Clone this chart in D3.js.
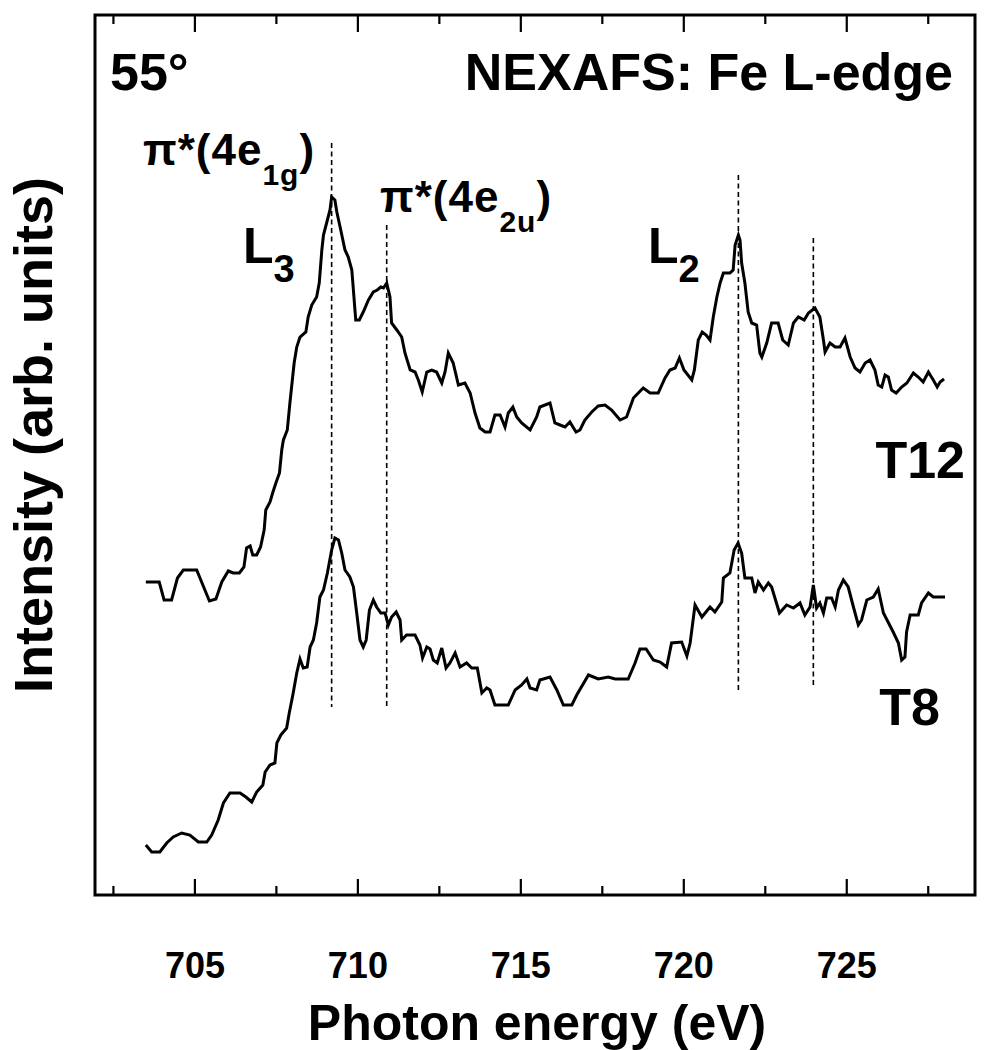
<!DOCTYPE html>
<html>
<head>
<meta charset="utf-8">
<script src="https://cdn.jsdelivr.net/npm/d3@7"></script>
<style>
  body { margin:0; background:#fff; }
  text { font-family: "Liberation Sans", Arial, sans-serif; font-weight: bold; fill:#000; }
</style>
</head>
<body>
<div id="chart"></div>
<script>
// photon energy (eV), intensity (arb. units, T12 offset already in)
var t12 = [
  [703.51,313],[703.92,313],[704.07,295],[704.30,295],[704.48,317],[704.66,325],[705.07,325],[705.46,294],
  [705.66,296],[705.84,313],[706.04,324],[706.19,322],[706.38,322],[706.52,328],[706.60,347],[706.71,349],
  [706.79,340],[706.91,340],[707.03,348],[707.14,365],[707.19,385],[707.32,393],[707.40,402],[707.50,412],
  [707.61,422],[707.68,445],[707.73,455],[707.85,465],[707.93,492],[708.06,532],[708.14,548],[708.24,558],
  [708.42,563],[708.49,578],[708.60,590],[708.75,598],[708.83,612],[708.91,645],[708.96,660],[709.08,675],
  [709.16,685],[709.21,698],[709.31,695],[709.37,683],[709.49,665],[709.62,645],[709.72,638],[709.83,625],
  [709.95,575],[710.06,575],[710.18,583],[710.34,595],[710.49,603],[710.61,605],[710.72,608],[710.80,607],
  [710.90,612],[711.00,598],[711.05,572],[711.21,565],[711.36,558],[711.46,542],[711.62,525],[711.77,523],
  [711.87,515],[711.99,503],[712.13,523],[712.28,525],[712.43,523],[712.59,512],[712.69,523],[712.79,542],
  [712.94,532],[713.10,510],[713.30,512],[713.46,502],[713.61,482],[713.76,467],[713.92,463],[714.07,463],
  [714.22,480],[714.38,480],[714.53,468],[714.63,482],[714.77,488],[714.89,478],[715.04,472],[715.30,465],
  [715.50,478],[715.60,488],[715.91,492],[716.06,472],[716.22,470],[716.37,468],[716.52,473],[716.71,463],
  [716.83,465],[716.98,475],[717.19,483],[717.39,489],[717.60,490],[717.80,485],[718.06,475],[718.26,478],
  [718.47,497],[718.77,507],[718.98,502],[719.23,502],[719.44,517],[719.59,525],[719.75,527],[719.88,537],
  [720.02,525],[720.26,515],[720.34,525],[720.46,555],[720.58,563],[720.70,560],[720.82,555],[720.92,578],
  [721.03,598],[721.13,612],[721.23,622],[721.43,622],[721.53,625],[721.59,650],[721.69,660],[721.74,655],
  [721.79,632],[721.89,612],[721.99,583],[722.10,572],[722.25,570],[722.35,542],[722.41,538],[722.56,552],
  [722.71,572],[722.91,572],[723.05,555],[723.22,550],[723.38,572],[723.53,578],[723.71,575],[723.84,582],
  [724.04,587],[724.19,578],[724.30,555],[724.35,543],[724.50,552],[724.66,548],[724.81,548],[724.96,557],
  [725.12,538],[725.27,527],[725.42,523],[725.58,532],[725.73,535],[725.88,525],[725.98,510],[726.09,508],
  [726.19,520],[726.29,518],[726.39,505],[726.53,502],[726.70,508],[726.86,512],[727.06,522],[727.21,518],
  [727.36,513],[727.52,523],[727.67,515],[727.79,508],[727.88,513],[728.00,516]
]

var t8 = [
  [703.51,50],[703.69,43],[703.94,43],[704.15,52],[704.35,58],[704.61,62],[704.86,60],[705.12,53],
  [705.38,53],[705.53,60],[705.73,75],[705.89,92],[706.09,102],[706.40,102],[706.58,98],[706.76,93],
  [706.91,103],[707.10,110],[707.17,123],[707.32,130],[707.47,132],[707.53,152],[707.65,160],[707.83,167],
  [707.91,182],[708.02,200],[708.14,222],[708.24,236],[708.34,227],[708.46,228],[708.55,248],[708.65,255],
  [708.75,272],[708.85,298],[708.96,305],[709.08,322],[709.21,345],[709.31,357],[709.42,355],[709.52,342],
  [709.62,325],[709.77,318],[709.88,308],[709.98,282],[710.08,255],[710.18,248],[710.27,255],[710.37,285],
  [710.49,295],[710.59,288],[710.72,282],[710.85,282],[710.95,270],[711.05,278],[711.19,283],[711.31,275],
  [711.36,255],[711.51,260],[711.77,260],[711.92,250],[712.00,237],[712.13,248],[712.23,246],[712.33,235],
  [712.45,232],[712.59,247],[712.72,227],[712.84,232],[713.00,242],[713.15,228],[713.35,232],[713.51,227],
  [713.68,227],[713.82,202],[713.97,207],[714.07,205],[714.22,190],[714.63,190],[714.84,205],[715.04,210],
  [715.20,216],[715.30,207],[715.50,205],[715.60,215],[715.91,218],[716.12,205],[716.32,190],[716.58,190],
  [716.73,200],[717.09,220],[717.39,216],[717.70,218],[717.91,216],[718.31,216],[718.52,232],[718.67,246],
  [718.86,246],[719.08,235],[719.29,233],[719.49,228],[719.64,252],[719.95,253],[720.11,239],[720.21,252],
  [720.36,290],[720.57,278],[720.82,288],[720.97,283],[721.18,293],[721.23,317],[721.43,322],[721.56,345],
  [721.68,352],[721.79,342],[721.89,317],[722.10,317],[722.20,302],[722.30,313],[722.46,305],[722.61,312],
  [722.71,308],[722.95,282],[723.17,290],[723.38,287],[723.58,292],[723.73,280],[723.89,288],[723.99,310],
  [724.09,287],[724.19,292],[724.30,282],[724.40,297],[724.55,297],[724.66,288],[724.76,305],[724.91,315],
  [725.06,308],[725.22,288],[725.37,270],[725.47,275],[725.63,295],[725.83,298],[725.98,306],[726.14,282],
  [726.44,263],[726.60,252],[726.70,235],[726.80,238],[726.85,263],[726.96,280],[727.21,280],[727.31,292],
  [727.52,302],[727.67,298],[728.03,298]
]

// dashed markers: energy, top and bottom intensity
var peakEnergy = [709.21, 710.90, 721.69, 723.99]
var peakTop    = [752, 670, 720, 657]
var peakBottom = [188, 187, 205, 208]

var majorTicks = [705, 710, 715, 720, 725]
var minorTicks = [702.5, 707.5, 712.5, 717.5, 722.5, 727.5]

var w = 989
var h = 1050
var m = { top:15, right:14, bottom:155, left:95 }

var svg = d3.select('#chart').append('svg')
    .attr('width', w)
    .attr('height', h)

var x = d3.scaleLinear()
    .domain([701.95, 728.95])
    .range([m.left, w-m.right])

var y = d3.scaleLinear()
    .domain([0, 880])
    .range([h-m.bottom, m.top])

var line = d3.line()
    .x(d=> x(d[0]))
    .y(d=> y(d[1]))

// axes, ticks pointing in
var axisDefs = [
    { a: d3.axisBottom(x).tickValues(majorTicks).tickSize(-16).tickPadding(57).tickFormat(d3.format('d')), t: h-m.bottom },
    { a: d3.axisBottom(x).tickValues(minorTicks).tickSize(-9).tickFormat(''), t: h-m.bottom },
    { a: d3.axisTop(x).tickValues(majorTicks).tickSize(-17).tickFormat(''), t: m.top },
    { a: d3.axisTop(x).tickValues(minorTicks).tickSize(-9).tickFormat(''), t: m.top }
]
axisDefs.forEach(function(ad) {
    var g = svg.append('g')
        .attr('transform', 'translate(0,' + ad.t + ')')
        .call(ad.a)
    g.select('.domain').remove()
    g.selectAll('.tick line').attr('stroke', '#000').attr('stroke-width', 2.2)
    g.selectAll('.tick text')
        .attr('font-size', 36)
        .attr('font-family', '"Liberation Sans", Arial, sans-serif')
        .attr('font-weight', 'bold')
        .attr('fill', '#000')
})

// frame
svg.append('rect')
    .attr('x', m.left)
    .attr('y', m.top)
    .attr('width', w-m.left-m.right)
    .attr('height', h-m.top-m.bottom)
    .attr('fill', 'none')
    .attr('stroke', '#000')
    .attr('stroke-width', 3)

// dashed peak markers
svg.append('g').selectAll('line')
    .data(peakEnergy)
    .enter().append('line')
    .attr('x1', d=> x(d))
    .attr('x2', d=> x(d))
    .attr('y1', (d,i)=> y(peakTop[i]))
    .attr('y2', (d,i)=> y(peakBottom[i]))
    .attr('stroke', '#000')
    .attr('stroke-width', 1.6)
    .attr('stroke-dasharray', '5 3.5')

// spectra
svg.append('g').selectAll('path')
    .data([t12, t8])
    .enter().append('path')
    .attr('d', line)
    .attr('fill', 'none')
    .attr('stroke', '#000')
    .attr('stroke-width', 3)
    .attr('stroke-linejoin', 'miter')

// texts
function label(px, py, size, str, anchor) {
    return svg.append('text')
        .attr('x', px)
        .attr('y', py)
        .attr('font-size', size)
        .attr('text-anchor', anchor || 'start')
        .text(str)
}

label(110, 90, 52, '55°')
label(953, 90, 52, 'NEXAFS: Fe L-edge', 'end')
label(965, 478, 52, 'T12', 'end')
label(940, 725, 52, 'T8', 'end')

function subLabel(px, py, size, pre, sub, post, subSize, drop) {
    var t = svg.append('text')
        .attr('x', px)
        .attr('y', py)
        .attr('font-size', size)
    t.append('tspan').text(pre)
    t.append('tspan').attr('font-size', subSize).attr('dy', drop).text(sub)
    if (post) t.append('tspan').attr('dy', -drop).text(post)
    return t
}

subLabel(143, 165, 44, 'π*(4e', '1g', ')', 30, 20).attr('letter-spacing', 1)
subLabel(380, 212, 44, 'π*(4e', '2u', ')', 30, 20).attr('letter-spacing', 1)
subLabel(243, 263, 50, 'L', '3', null, 38, 19)
subLabel(648, 263, 50, 'L', '2', null, 38, 19)

label(537, 1040, 50, 'Photon energy (eV)', 'middle')
svg.append('text')
    .attr('transform', 'translate(52,435) rotate(-90)')
    .attr('font-size', 54)
    .attr('text-anchor', 'middle')
    .text('Intensity  (arb. units)')
</script>
</body>
</html>
